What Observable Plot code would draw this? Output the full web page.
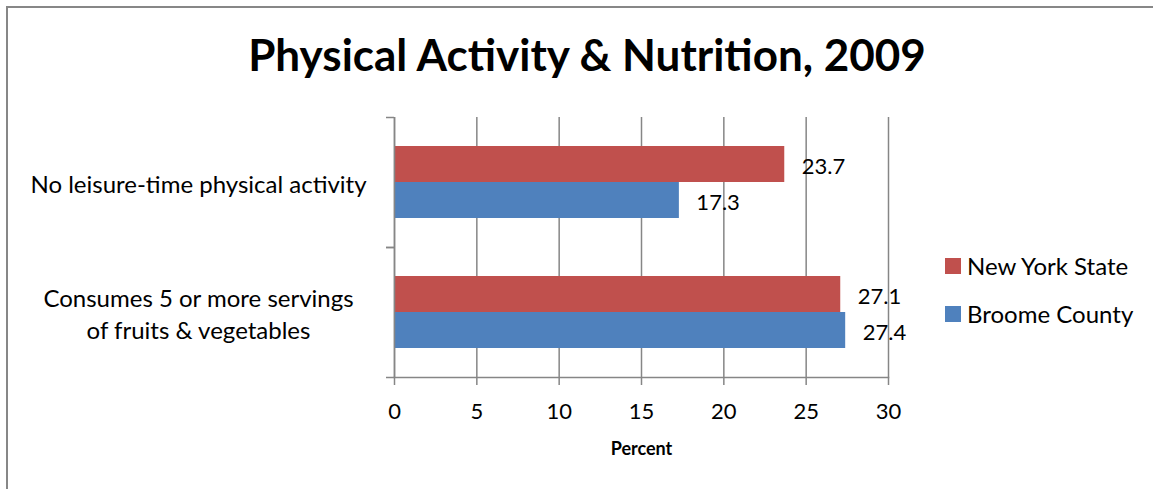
<!DOCTYPE html>
<html>
<head>
<meta charset="utf-8">
<script src="https://cdn.jsdelivr.net/npm/d3@7"></script>
<script src="https://cdn.jsdelivr.net/npm/@observablehq/plot@0.6"></script>
<style>
  html, body { margin: 0; padding: 0; background: #fff; }
  #wrap { position: relative; width: 1153px; height: 489px; overflow: hidden; font-family: Lato, "Open Sans", sans-serif; }
  #border { position: absolute; left: 6px; top: 6px; width: 1200px; height: 600px; border-top: 2px solid #878787; border-left: 2px solid #878787; }
  #title { position: absolute; left: 0; width: 1174px; top: 28px; text-align: center; font-weight: bold; font-size: 44px; line-height: 53px; color: #000; }
  #chart { position: absolute; left: 0; top: 0; }
  .legend { position: absolute; left: 945px; font-size: 24px; color: #000; line-height: 24px; }
  .legend span.sw { position: absolute; left: 0; top: 4px; width: 16px; height: 16px; }
  .legend span.lb { position: absolute; left: 22px; top: 0; white-space: nowrap; }
  #chart svg [aria-label="x-axis label"] text { font-weight: bold; font-size: 18px; }
</style>
</head>
<body>
<div id="wrap">
  <div id="border"></div>
  <div id="chart"></div>
  <div id="title"></div>
  <div id="legend"></div>
</div>
<script>
const title = "Physical Activity & Nutrition, 2009";
const categories = ["No leisure-time physical activity", "Consumes 5 or more servings\nof fruits & vegetables"];
const series = ["New York State", "Broome County"];
const nysValues = [23.7, 27.1];
const broomeValues = [17.3, 27.4];
const xTicks = [0, 5, 10, 15, 20, 25, 30];
const colors = ["#C0504D", "#4F81BD"];
const xLabel = "Percent";

const data = categories.flatMap((c, i) => [
  {category: c, series: series[0], value: nysValues[i]},
  {category: c, series: series[1], value: broomeValues[i]}
]);

const grey = "#868686";

const chart = Plot.plot({
  width: 1153,
  height: 489,
  marginLeft: 394,
  marginRight: 265,
  marginTop: 117,
  marginBottom: 112,
  style: {fontFamily: "Lato, 'Open Sans', sans-serif", fontSize: "22px", color: "#000", background: "transparent"},
  x: {domain: [0, 30], ticks: xTicks},
  fy: {domain: categories, padding: 0},
  y: {domain: series, paddingInner: 0, paddingOuter: 0.77, axis: null},
  color: {domain: series, range: colors},
  marks: [
    Plot.gridX(xTicks, {stroke: grey, strokeOpacity: 1, strokeWidth: 1.5}),
    Plot.barX(data, {fy: "category", y: "series", x: "value", fill: "series"}),
    Plot.ruleX([0], {stroke: grey, strokeWidth: 1.5}),
    Plot.frame({anchor: "bottom", fy: [categories[1]], stroke: grey, strokeWidth: 1.5}),
    Plot.text(data, {fy: "category", y: "series", x: "value", text: d => d.value.toFixed(1), textAnchor: "start", dx: 17, dy: 2, fontSize: 22, fill: "#000"}),
    Plot.axisFy({anchor: "left", tickSize: 0, tickPadding: 0, dx: -196, textAnchor: "middle", label: null, lineHeight: 1.33, fontSize: 24}),
    Plot.axisFy({anchor: "left", tickSize: 8, fill: "none", dy: -65, label: null, stroke: grey, strokeWidth: 1.5}),
    Plot.axisFy({anchor: "left", tickSize: 8, fill: "none", dy: 65, label: null, stroke: grey, strokeWidth: 1.5}),
    Plot.axisX(xTicks, {tickSize: 8, tickPadding: 18, stroke: grey, strokeWidth: 1.5, fontSize: 22, label: xLabel, labelAnchor: "center", labelOffset: 77, labelArrow: "none"})
  ]
});
document.getElementById("chart").appendChild(chart);
document.getElementById("title").textContent = title;

const legend = document.getElementById("legend");
series.forEach((s, i) => {
  const item = document.createElement("div");
  item.className = "legend";
  item.style.top = (254 + i * 48) + "px";
  item.innerHTML = `<span class="sw" style="background:${colors[i]}"></span><span class="lb"></span>`;
  item.querySelector(".lb").textContent = s;
  legend.appendChild(item);
});
</script>
</body>
</html>
